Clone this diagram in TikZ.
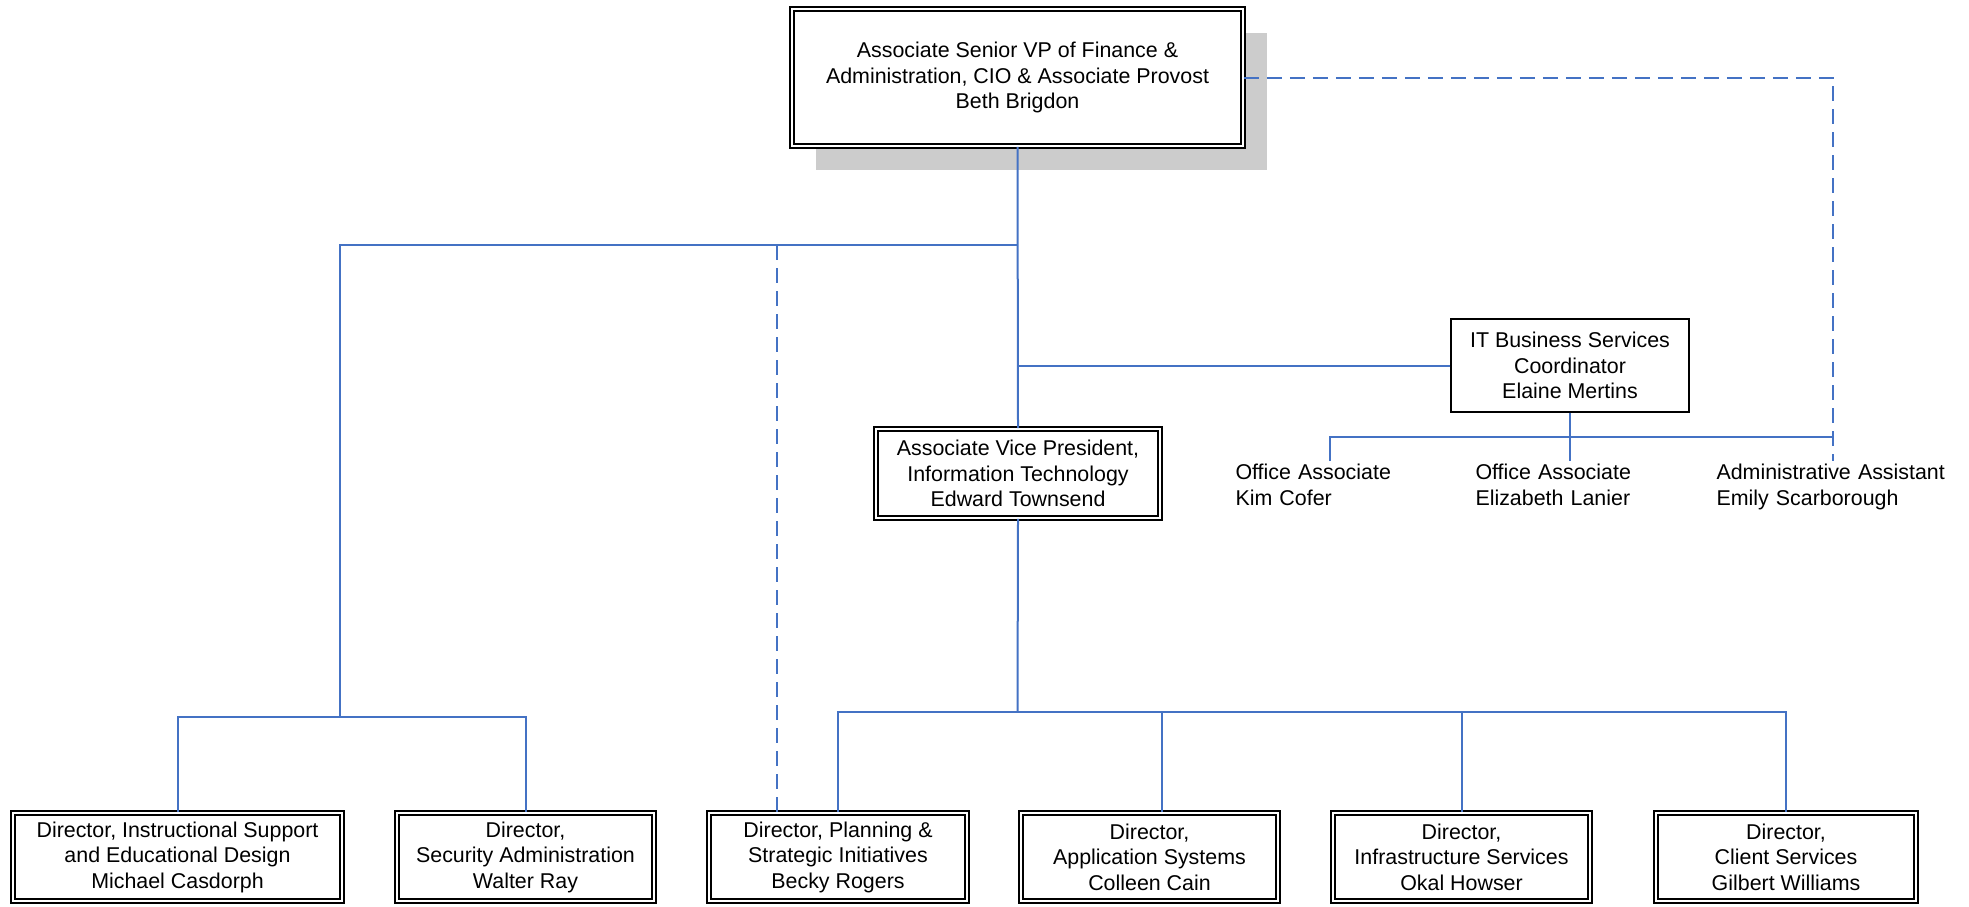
\documentclass[tikz,border=0pt]{standalone}
\usepackage{fontspec}
\setmainfont{Liberation Sans}
\usetikzlibrary{shadows}
\definecolor{linkblue}{HTML}{4472C4}
\definecolor{shadowgray}{HTML}{CCCCCC}
\tikzset{
  orgfont/.style={font=\fontsize{10.7}{12.75}\selectfont},
  dbox/.style={orgfont, draw, double, double distance=1.3pt, line width=0.8pt, align=center, inner sep=2pt, fill=white},
  sbox/.style={orgfont, draw, line width=0.7pt, align=center, fill=white},
  staff/.style={orgfont, align=left, inner sep=1.5pt, anchor=north},
  link/.style={linkblue, line width=1pt},
  dlink/.style={link, dash pattern=on 7.5pt off 4pt},
}
\begin{document}
\begin{tikzpicture}[x=0.5pt, y=-0.5pt]
\useasboundingbox (0,0) rectangle (1969,906);
\node[dbox, minimum width=225.5pt, minimum height=68.5pt,
      drop shadow={shadow xshift=12pt, shadow yshift=-12pt, fill=shadowgray, opacity=1}]
      (top) at (1017.5,77.5) {Associate Senior VP of Finance \&\\Administration, CIO \& Associate Provost\\Beth Brigdon};
\node[dbox, minimum width=142pt, minimum height=44.5pt] (avp) at (1018,473.5) {Associate Vice President,\\Information Technology\\Edward Townsend};
\node[sbox, minimum width=119pt, minimum height=46.5pt] (itb) at (1570,365.5) {IT Business Services\\Coordinator\\Elaine Mertins};
\node[staff, text width=94.5pt] (kim) at (1330,461) {Office Associate\\Kim Cofer};
\node[staff, text width=94.5pt] (eli) at (1570,461) {Office Associate\\Elizabeth Lanier};
\node[staff, text width=116.5pt] (emy) at (1833,461) {Administrative Assistant\\Emily Scarborough};
\node[dbox, minimum width=164.5pt, minimum height=44pt] (isd) at (177.5,857) {Director, Instructional Support\\and Educational Design\\Michael Casdorph};
\node[dbox, minimum width=128.5pt, minimum height=44pt] (sec) at (525.5,857) {Director,\\Security Administration\\Walter Ray};
\node[dbox, minimum width=129pt, minimum height=44pt] (pla) at (838,857) {Director, Planning \&\\Strategic Initiatives\\Becky Rogers};
\node[dbox, minimum width=128.5pt, minimum height=44pt] (app) at (1149.5,857) {Director,\\Application Systems\\Colleen Cain};
\node[dbox, minimum width=128.5pt, minimum height=44pt] (inf) at (1461.5,857) {Director,\\Infrastructure Services\\Okal Howser};
\node[dbox, minimum width=130pt, minimum height=44pt] (cli) at (1786,857) {Director,\\Client Services\\Gilbert Williams};
\coordinate (hub) at (1017.5,245);
\coordinate (isj) at (340,717);
\coordinate (dot) at (777,245);
\coordinate (oaj) at (1570,437);
\coordinate (drj) at (1017.5,712);
\draw[link] (top.south) -- (avp.north);
\draw[link] (hub) -| (isj);
\draw[link] (isd.north) |- (isj) -| (sec.north);
\draw[dlink] (dot) -- (dot |- pla.north);
\draw[link] (itb.west) -- (itb.west -| top.south);
\draw[link] (itb.south) -- (eli.north);
\draw[link] (kim.north) |- (oaj) -- (oaj -| emy.north);
\draw[dlink] (top.east) -| (emy.north);
\draw[link] (avp.south) -- (drj);
\draw[link] (pla.north) |- (drj) -| (cli.north);
\draw[link] ([xshift=6.25pt]app.north) -- ([xshift=6.25pt]app.north |- drj);
\draw[link] (inf.north) -- (inf.north |- drj);
\end{tikzpicture}
\end{document}
